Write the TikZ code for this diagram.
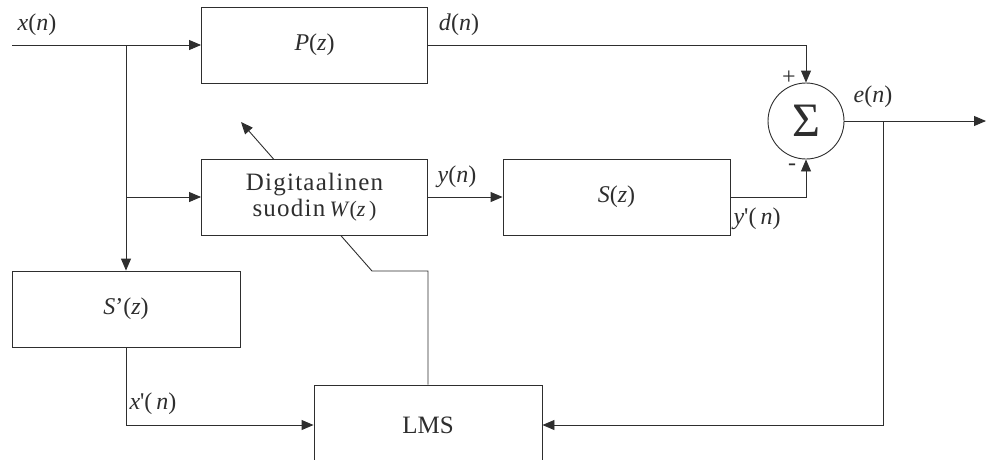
\documentclass[tikz,border=0pt]{standalone}
\usepackage{fontspec}
\setmainfont{Liberation Serif}
\newfontfamily\spacedserif[LetterSpace=5]{Liberation Serif}
\usetikzlibrary{arrows.meta}
\definecolor{ink}{HTML}{2E2E2E}
\begin{document}
\begin{tikzpicture}[x=1pt,y=-1pt,
  line width=0.9pt,
  color=ink,
  blk/.style={draw=ink, fill=white, rectangle, inner sep=0pt,
    minimum width=226pt, minimum height=76pt, text=ink,
    font=\fontsize{24}{26}\selectfont},
  sumnode/.style={draw=ink, fill=white, circle, inner sep=0pt,
    minimum size=76pt, text=ink, font=\fontsize{48}{50}\selectfont},
  sig/.style={draw=ink, -{Triangle[length=12pt,width=10pt]}},
  lbl/.style={inner sep=0pt, text=ink, font=\fontsize{24}{26}\selectfont}]
\useasboundingbox (0,0) rectangle (987,459);
\clip (0,0) rectangle (987,459);

% blocks (the adaptive filter block is placed last so that it
% covers the adaptation arrow running behind it)
\node[blk] (P) at (314.5,45) {\textit{P}\/(\textit{z})};
\node[blk, minimum width=227pt] (S) at (616.5,197) {\textit{S}\/(\textit{z})};
\node[blk, minimum width=228pt] (Sp) at (126,309) {\textit{S}’(\textit{z})};
\node[blk, minimum width=228pt, minimum height=80pt,
  font=\fontsize{25}{26}\selectfont] (LMS) at (428,425) {LMS};
\node[sumnode] (sum) at (806,121) {Σ};

% branch points and free ends
\coordinate (in) at (12,45);
\coordinate (out) at (986,121);
\coordinate (jx) at (126,45);
\coordinate (jw) at (126,197);
\coordinate (je) at (883,121);
\coordinate (up) at (428,271);
\coordinate (knee) at (372,271);
\coordinate (tip) at (241,122);

% adaptation arrow from the LMS block through the filter
\draw[sig] (LMS.north) -- (up) -- (knee) -- (tip);

\node[blk, align=center, font=\fontsize{25}{26}\selectfont] (W) at (314.5,197)
  {{\spacedserif Digitaalinen}\\{\spacedserif suodin}\,{\fontsize{22}{26}\selectfont\textit{W}\/(\textit{z}\,)}};

% signal paths
\draw[sig] (in) -- (P.west);
\draw[sig] (P.east) -| (sum.north);
\draw[sig] (jx) -- (Sp.north);
\draw[sig] (jw) -- (W.west);
\draw[sig] (W.east) -- (S.west);
\draw[sig] (S.east) -| (sum.south);
\draw[sig] (sum.east) -- (out);
\draw[sig] (je) |- (LMS.east);
\draw[sig] (Sp.south) |- (LMS.west);

% signal labels
\node[lbl] (lx) at (37,25) {\textit{x}(\textit{n})};
\node[lbl] (ld) at (459,25) {\textit{d}(\textit{n})};
\node[lbl] (ly) at (457,177) {\textit{y}(\textit{n})};
\node[lbl] (lyp) at (757,219) {\textit{y}\textquotesingle(\,\textit{n})};
\node[lbl] (le) at (873,97) {\textit{e}(\textit{n})};
\node[lbl] (lxp) at (153,404) {\textit{x}\textquotesingle(\,\textit{n})};
\node[lbl] (lplus) at (789,78) {+};
\node[lbl] (lminus) at (792,167) {-};
\end{tikzpicture}
\end{document}
